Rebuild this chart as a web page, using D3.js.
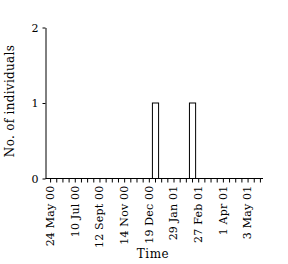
<!DOCTYPE html>
<html>
<head>
<meta charset="utf-8">
<script src="https://cdn.jsdelivr.net/npm/d3@7"></script>
<style>
  body { margin: 0; background: #fff; }
  text { font-family: "DejaVu Serif", serif; fill: #000; }
</style>
</head>
<body>
<svg id="chart" width="288" height="264"></svg>
<script>
// sampling occasions (35), only every 4th one is labelled
var occasions = d3.range(35);
var tickLabels = ["24 May 00", "10 Jul 00", "12 Sept 00", "14 Nov 00", "19 Dec 00",
                  "29 Jan 01", "27 Feb 01", "1 Apr 01", "3 May 01"];
var counts = [0, 0, 0, 0, 0, 0, 0, 0, 0, 0, 0, 0, 0, 0, 0, 0, 0, 1, 0, 0,
              0, 0, 0, 1, 0, 0, 0, 0, 0, 0, 0, 0, 0, 0, 0];
var yTicks = [0, 1, 2];

var svg = d3.select("#chart");
var margin = { top: 27, left: 45, bottom: 178, right: 263 };

var x = d3.scaleBand().domain(occasions).range([47, 263]).padding(0);
var y = d3.scaleLinear().domain([0, 2]).range([margin.bottom, margin.top]);

// bars
svg.append("g").selectAll("rect")
    .data(counts.map((c, i) => ({ i: i, c: c })).filter(d => d.c > 0))
    .enter().append("rect")
    .attr("x", d => x(d.i) + 0.5)
    .attr("y", d => y(d.c) + 0.5)
    .attr("width", x.bandwidth())
    .attr("height", d => y(0) - y(d.c))
    .attr("fill", "#fff")
    .attr("stroke", "#000")
    .attr("stroke-width", 1);

// x axis
var xAxis = d3.axisBottom(x)
    .tickSize(4)
    .tickFormat(i => i % 4 === 0 ? tickLabels[i / 4] : "");
var gx = svg.append("g")
    .attr("transform", "translate(0," + (margin.bottom + 0.5) + ")")
    .call(xAxis);
gx.select(".domain").attr("d", "M" + (margin.left + 0.5) + ",0H" + margin.right);
gx.selectAll(".tick line").attr("transform", "translate(0.5,0)");
gx.selectAll("text")
    .attr("font-size", 11)
    .attr("font-family", "DejaVu Serif")
    .attr("letter-spacing", 0.2)
    .attr("transform", "rotate(-90)")
    .attr("text-anchor", "end")
    .attr("x", -7)
    .attr("y", 0)
    .attr("dy", "0.35em");

// y axis
var gy = svg.append("g")
    .attr("transform", "translate(" + (margin.left + 0.5) + ",0.5)")
    .call(d3.axisLeft(y).tickValues(yTicks).tickSize(3).tickSizeOuter(0).tickFormat(d3.format("d")));
gy.selectAll("text")
    .attr("font-size", 11)
    .attr("font-family", "DejaVu Serif")
    .attr("x", -7);

svg.selectAll(".domain, .tick line").attr("stroke", "#000");

// axis titles
svg.append("text")
    .attr("x", 153).attr("y", 258)
    .attr("text-anchor", "middle")
    .attr("font-size", 12)
    .attr("letter-spacing", 0.5)
    .text("Time");

svg.append("text")
    .attr("transform", "translate(14,101) rotate(-90)")
    .attr("text-anchor", "middle")
    .attr("font-size", 12)
    .attr("letter-spacing", 0.3)
    .text("No. of individuals");
</script>
</body>
</html>
